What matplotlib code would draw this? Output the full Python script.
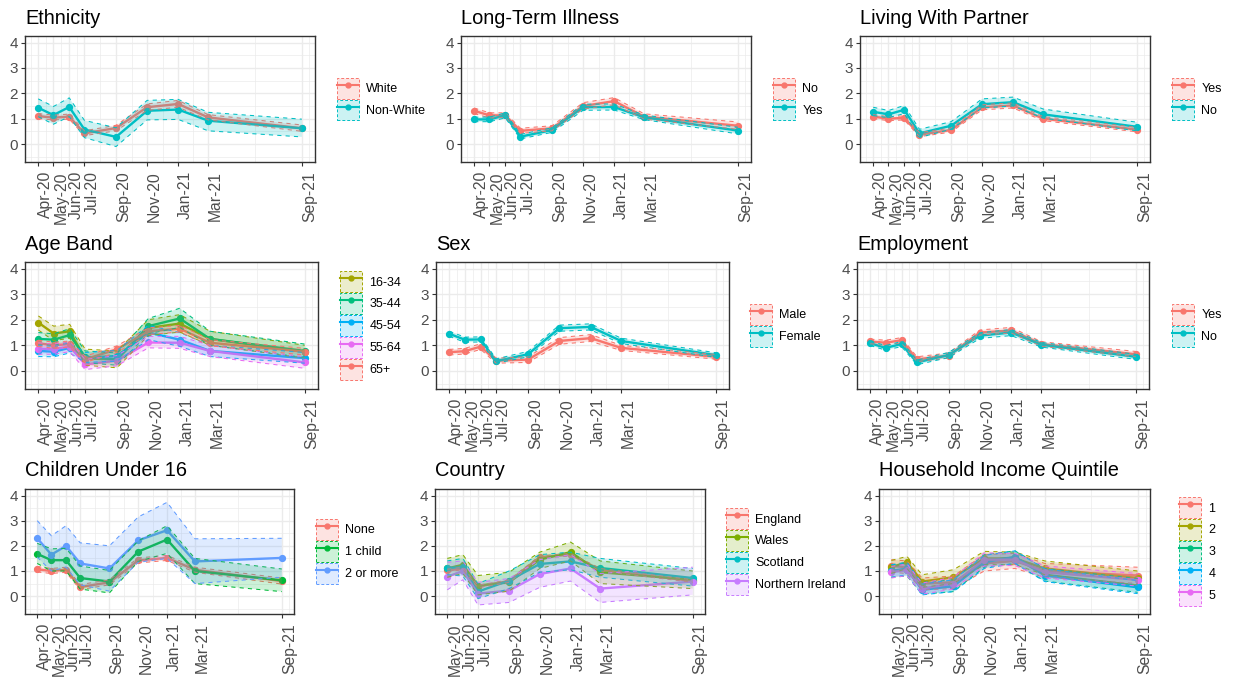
import numpy as np
import pandas as pd
import matplotlib
matplotlib.use("Agg")
import matplotlib.pyplot as plt
from matplotlib.patches import Patch
from matplotlib.lines import Line2D
from matplotlib.legend_handler import HandlerTuple
from matplotlib.colors import to_rgba
import matplotlib.dates as mdates

plt.rcParams['font.family'] = ['Liberation Sans', 'DejaVu Sans']

# ---------------- data ----------------
months_apr = ["Apr-20", "May-20", "Jun-20", "Jul-20", "Sep-20", "Nov-20", "Jan-21", "Mar-21", "Sep-21"]
months_may = ["May-20", "Jun-20", "Jul-20", "Sep-20", "Nov-20", "Jan-21", "Mar-21", "Sep-21"]

# Ethnicity
eth_labels = ["White", "Non-White"]
eth_white = [1.10, 1.04, 1.08, 0.42, 0.63, 1.45, 1.58, 1.05, 0.62]
eth_white_lo = [1.00, 0.95, 0.98, 0.33, 0.52, 1.33, 1.45, 0.95, 0.50]
eth_white_hi = [1.20, 1.14, 1.18, 0.52, 0.74, 1.58, 1.72, 1.16, 0.75]
eth_nonwhite = [1.43, 1.14, 1.46, 0.57, 0.28, 1.31, 1.36, 0.92, 0.62]
eth_nonwhite_lo = [1.08, 0.78, 1.08, 0.25, -0.10, 0.95, 0.97, 0.52, 0.28]
eth_nonwhite_hi = [1.78, 1.48, 1.82, 0.93, 0.64, 1.72, 1.76, 1.25, 0.98]

# Long-Term Illness
lti_labels = ["No", "Yes"]
lti_no = [1.31, 1.13, 1.13, 0.52, 0.62, 1.50, 1.69, 1.08, 0.72]
lti_no_lo = [1.20, 1.03, 1.04, 0.42, 0.52, 1.38, 1.55, 0.98, 0.58]
lti_no_hi = [1.42, 1.23, 1.23, 0.62, 0.72, 1.63, 1.83, 1.19, 0.87]
lti_yes = [0.97, 0.97, 1.13, 0.29, 0.55, 1.45, 1.46, 1.05, 0.53]
lti_yes_lo = [0.88, 0.88, 1.03, 0.20, 0.46, 1.33, 1.34, 0.96, 0.40]
lti_yes_hi = [1.06, 1.06, 1.23, 0.38, 0.64, 1.57, 1.58, 1.14, 0.66]

# Living With Partner
lwp_labels = ["Yes", "No"]
lwp_yes = [1.08, 1.00, 1.03, 0.37, 0.55, 1.45, 1.52, 1.00, 0.57]
lwp_yes_lo = [1.00, 0.92, 0.95, 0.29, 0.47, 1.35, 1.42, 0.92, 0.48]
lwp_yes_hi = [1.16, 1.08, 1.11, 0.45, 0.63, 1.55, 1.62, 1.08, 0.66]
lwp_no = [1.27, 1.17, 1.35, 0.42, 0.72, 1.57, 1.65, 1.17, 0.68]
lwp_no_lo = [1.12, 1.04, 1.20, 0.26, 0.58, 1.42, 1.50, 1.02, 0.52]
lwp_no_hi = [1.45, 1.32, 1.52, 0.58, 0.88, 1.78, 1.85, 1.38, 0.86]

# Age Band
age_labels = ["16-34", "35-44", "45-54", "55-64", "65+"]
age_16_34 = [1.89, 1.46, 1.55, 0.48, 0.45, 1.68, 1.85, 1.25, 0.74]
age_16_34_lo = [1.60, 1.18, 1.28, 0.22, 0.12, 1.38, 1.52, 1.00, 0.50]
age_16_34_hi = [2.15, 1.75, 1.82, 0.85, 0.78, 2.00, 2.20, 1.55, 1.00]
age_35_44 = [1.25, 1.22, 1.40, 0.55, 0.45, 1.75, 2.05, 1.25, 0.78]
age_35_44_lo = [1.02, 1.00, 1.15, 0.32, 0.22, 1.45, 1.70, 1.00, 0.52]
age_35_44_hi = [1.50, 1.45, 1.65, 0.78, 0.70, 2.05, 2.45, 1.55, 1.05]
age_45_54 = [0.78, 0.75, 0.90, 0.52, 0.58, 1.50, 1.22, 0.78, 0.50]
age_45_54_lo = [0.56, 0.55, 0.70, 0.33, 0.38, 1.22, 0.96, 0.56, 0.30]
age_45_54_hi = [1.00, 0.95, 1.10, 0.72, 0.80, 1.78, 1.50, 1.00, 0.72]
age_55_64 = [0.87, 0.85, 0.95, 0.25, 0.40, 1.11, 1.10, 0.78, 0.33]
age_55_64_lo = [0.65, 0.65, 0.75, 0.05, 0.20, 0.90, 0.88, 0.56, 0.10]
age_55_64_hi = [1.10, 1.05, 1.15, 0.45, 0.60, 1.35, 1.35, 1.00, 0.55]
age_65 = [1.08, 1.00, 1.05, 0.45, 0.85, 1.55, 1.65, 1.10, 0.75]
age_65_lo = [0.96, 0.88, 0.93, 0.33, 0.72, 1.42, 1.52, 0.98, 0.62]
age_65_hi = [1.20, 1.12, 1.17, 0.57, 0.98, 1.68, 1.78, 1.22, 0.88]

# Sex
sex_labels = ["Male", "Female"]
sex_male = [0.73, 0.77, 0.95, 0.40, 0.44, 1.17, 1.28, 0.90, 0.55]
sex_male_lo = [0.62, 0.66, 0.84, 0.30, 0.33, 1.04, 1.15, 0.80, 0.46]
sex_male_hi = [0.84, 0.88, 1.06, 0.50, 0.55, 1.30, 1.42, 1.00, 0.64]
sex_female = [1.45, 1.22, 1.23, 0.38, 0.65, 1.67, 1.72, 1.17, 0.62]
sex_female_lo = [1.35, 1.12, 1.13, 0.30, 0.55, 1.55, 1.60, 1.07, 0.53]
sex_female_hi = [1.55, 1.32, 1.33, 0.47, 0.76, 1.79, 1.84, 1.28, 0.71]

# Employment
emp_labels = ["Yes", "No"]
emp_yes = [1.15, 1.10, 1.20, 0.45, 0.60, 1.50, 1.58, 1.05, 0.65]
emp_yes_lo = [1.06, 1.00, 1.10, 0.36, 0.50, 1.40, 1.48, 0.96, 0.55]
emp_yes_hi = [1.24, 1.20, 1.30, 0.55, 0.70, 1.60, 1.70, 1.14, 0.76]
emp_no = [1.08, 0.90, 1.05, 0.33, 0.62, 1.38, 1.50, 1.02, 0.55]
emp_no_lo = [0.99, 0.81, 0.95, 0.24, 0.52, 1.27, 1.38, 0.93, 0.45]
emp_no_hi = [1.17, 0.99, 1.15, 0.42, 0.72, 1.49, 1.62, 1.11, 0.65]

# Children Under 16
chi_labels = ["None", "1 child", "2 or more"]
chi_none = [1.07, 1.00, 1.05, 0.36, 0.55, 1.42, 1.52, 1.05, 0.60]
chi_none_lo = [0.96, 0.90, 0.95, 0.26, 0.45, 1.32, 1.42, 0.95, 0.48]
chi_none_hi = [1.18, 1.10, 1.15, 0.46, 0.65, 1.52, 1.62, 1.15, 0.72]
chi_one = [1.68, 1.43, 1.43, 0.72, 0.58, 1.77, 2.25, 1.00, 0.63]
chi_one_lo = [1.30, 1.00, 1.00, 0.28, 0.13, 1.38, 1.70, 0.50, 0.18]
chi_one_hi = [2.10, 1.88, 1.90, 1.20, 1.02, 2.20, 2.80, 1.50, 1.08]
chi_two = [2.30, 1.65, 2.00, 1.30, 1.10, 2.22, 2.62, 1.38, 1.52]
chi_two_lo = [1.55, 1.00, 1.15, 0.45, 0.20, 1.35, 1.50, 0.50, 0.75]
chi_two_hi = [3.00, 2.40, 2.80, 2.12, 2.00, 3.15, 3.73, 2.28, 2.30]

# Country
cty_labels = ["England", "Wales", "Scotland", "Northern Ireland"]
cty_eng = [1.02, 1.10, 0.38, 0.60, 1.55, 1.65, 1.05, 0.60]
cty_eng_lo = [0.97, 1.05, 0.33, 0.55, 1.50, 1.60, 1.00, 0.55]
cty_eng_hi = [1.07, 1.15, 0.43, 0.65, 1.60, 1.70, 1.10, 0.65]
cty_wal = [1.10, 1.25, 0.42, 0.55, 1.45, 1.75, 0.95, 0.65]
cty_wal_lo = [0.75, 0.90, 0.05, 0.20, 1.10, 1.40, 0.50, 0.30]
cty_wal_hi = [1.50, 1.65, 0.82, 0.95, 1.75, 2.15, 1.40, 1.00]
cty_sco = [1.12, 1.15, 0.18, 0.62, 1.28, 1.38, 1.12, 0.72]
cty_sco_lo = [0.85, 0.80, -0.10, 0.30, 0.95, 1.05, 0.75, 0.40]
cty_sco_hi = [1.40, 1.50, 0.50, 1.00, 1.65, 1.75, 1.50, 1.10]
cty_ni = [0.77, 1.00, 0.10, 0.22, 0.88, 1.10, 0.30, 0.58]
cty_ni_lo = [0.25, 0.65, -0.35, -0.25, 0.35, 0.60, -0.25, 0.05]
cty_ni_hi = [1.35, 1.40, 0.55, 0.70, 1.45, 1.65, 0.90, 1.15]

# Household Income Quintile
inc_labels = ["1", "2", "3", "4", "5"]
inc_q1 = [1.20, 1.15, 0.50, 0.55, 1.30, 1.40, 1.00, 0.82]
inc_q1_lo = [0.95, 0.90, 0.25, 0.30, 1.00, 1.10, 0.75, 0.50]
inc_q1_hi = [1.45, 1.40, 0.72, 0.80, 1.65, 1.70, 1.30, 1.15]
inc_q2 = [1.15, 1.35, 0.58, 0.75, 1.50, 1.50, 1.10, 0.72]
inc_q2_lo = [0.90, 1.10, 0.35, 0.50, 1.25, 1.25, 0.85, 0.45]
inc_q2_hi = [1.42, 1.58, 0.85, 1.05, 1.78, 1.75, 1.40, 1.00]
inc_q3 = [1.00, 1.05, 0.30, 0.40, 1.40, 1.55, 0.85, 0.42]
inc_q3_lo = [0.75, 0.80, 0.08, 0.18, 1.15, 1.30, 0.60, 0.15]
inc_q3_hi = [1.25, 1.30, 0.55, 0.65, 1.65, 1.80, 1.10, 0.70]
inc_q4 = [1.00, 1.10, 0.25, 0.40, 1.35, 1.55, 0.82, 0.35]
inc_q4_lo = [0.75, 0.85, 0.05, 0.18, 1.10, 1.30, 0.58, 0.10]
inc_q4_hi = [1.25, 1.35, 0.48, 0.65, 1.62, 1.80, 1.08, 0.62]
inc_q5 = [0.95, 1.05, 0.30, 0.50, 1.45, 1.45, 0.95, 0.65]
inc_q5_lo = [0.72, 0.82, 0.08, 0.28, 1.20, 1.22, 0.72, 0.40]
inc_q5_hi = [1.18, 1.28, 0.52, 0.75, 1.72, 1.70, 1.20, 0.90]

# ---------------- styling ----------------
C2 = ["#F8766D", "#00BFC4"]
C3 = ["#F8766D", "#00BA38", "#619CFF"]
C4 = ["#F8766D", "#7CAE00", "#00BFC4", "#C77CFF"]
C5 = ["#F8766D", "#A3A500", "#00BF7D", "#00B0F6", "#E76BF3"]
AGE_COLORS = ["#A3A500", "#00BF7D", "#00B0F6", "#E76BF3", "#F8766D"]

W, H = 1233, 677
fig = plt.figure(figsize=(W / 100, H / 100), dpi=100)
fig.patch.set_facecolor("white")

GRID = "#EBEBEB"
BORDER = "#333333"
TICKTXT = "#4D4D4D"


def minor_breaks(b, lo, hi):
    b = list(b)
    bd = b[1] - b[0]
    if lo < b[0]:
        b = [b[0] - bd] + b
    if hi > b[-1]:
        b = b + [b[-1] + bd]
    mids = [(b[i] + b[i + 1]) / 2 for i in range(len(b) - 1)]
    return [m for m in mids if lo <= m <= hi]


def panel(box, legx, title, months, series, labels, colors):
    l, r, t, b = box
    ax = fig.add_axes([l / W, 1 - b / H, (r - l) / W, (b - t) / H])
    x = mdates.date2num(pd.to_datetime(months, format="%b-%y"))
    span = x[-1] - x[0]
    xlo, xhi = x[0] - 0.05 * span, x[-1] + 0.05 * span
    ax.set_xlim(xlo, xhi)
    ax.set_ylim(-0.71, 4.26)

    ax.set_xticks(x)
    ax.set_xticklabels(months, rotation=90, ha="left", va="top", fontsize=11.3, color=TICKTXT)
    ax.set_xticks(minor_breaks(x, xlo, xhi), minor=True)
    ax.set_yticks([0, 1, 2, 3, 4])
    ax.set_yticklabels(["0", "1", "2", "3", "4"], fontsize=11, color=TICKTXT)
    ax.set_yticks([-0.5, 0.5, 1.5, 2.5, 3.5], minor=True)
    ax.tick_params(which="major", length=3, width=0.8, color=BORDER, pad=2)
    ax.tick_params(axis="x", which="major", pad=3.5)
    ax.tick_params(which="minor", length=0)
    ax.grid(which="major", color=GRID, lw=1.0)
    ax.grid(which="minor", color=GRID, lw=0.5)
    ax.set_axisbelow(True)
    for s in ax.spines.values():
        s.set_color(BORDER)
        s.set_linewidth(1.0)

    for (est, lo, hi), c in zip(series, colors):
        ax.plot(x, est, color=c, lw=1.7, marker="o", ms=4.2, zorder=3)
    for (est, lo, hi), c in zip(series, colors):
        ax.fill_between(x, lo, hi, facecolor=c, alpha=0.2, edgecolor="none", zorder=4)
        ax.plot(x, lo, color=c, lw=0.75, ls=(0, (4, 4)), zorder=4)
        ax.plot(x, hi, color=c, lw=0.75, ls=(0, (4, 4)), zorder=4)

    fig.text(l / W, 1 - (t - 18) / H, title, ha="left", va="center", fontsize=14.4, color="black")

    handles = []
    for c in colors:
        p = Patch(facecolor=to_rgba(c, 0.2), edgecolor=c, linestyle=(0, (3, 2)), linewidth=0.7)
        ln = Line2D([], [], color=c, lw=1.5, marker="o", ms=3.5)
        handles.append((p, ln))
    ax.legend(handles, labels, handler_map={tuple: HandlerTuple(ndivide=1)},
              loc="center left", bbox_to_anchor=(legx / W, 1 - ((t + b) / 2) / H),
              bbox_transform=fig.transFigure, frameon=False, fontsize=9,
              handlelength=1.75, handleheight=2.2, labelspacing=0.08,
              handletextpad=0.6, borderpad=0, borderaxespad=0, numpoints=1)
    return ax


panel((25, 315, 36, 162), 337, "Ethnicity", months_apr,
      [(eth_white, eth_white_lo, eth_white_hi), (eth_nonwhite, eth_nonwhite_lo, eth_nonwhite_hi)],
      eth_labels, C2)
panel((461, 751, 36, 162), 773, "Long-Term Illness", months_apr,
      [(lti_no, lti_no_lo, lti_no_hi), (lti_yes, lti_yes_lo, lti_yes_hi)],
      lti_labels, C2)
panel((860, 1150, 36, 162), 1172, "Living With Partner", months_apr,
      [(lwp_yes, lwp_yes_lo, lwp_yes_hi), (lwp_no, lwp_no_lo, lwp_no_hi)],
      lwp_labels, C2)

panel((25, 318, 262, 389), 340, "Age Band", months_apr,
      [(age_16_34, age_16_34_lo, age_16_34_hi), (age_35_44, age_35_44_lo, age_35_44_hi),
       (age_45_54, age_45_54_lo, age_45_54_hi), (age_55_64, age_55_64_lo, age_55_64_hi),
       (age_65, age_65_lo, age_65_hi)],
      age_labels, AGE_COLORS)
panel((436, 729, 262, 389), 750, "Sex", months_apr,
      [(sex_male, sex_male_lo, sex_male_hi), (sex_female, sex_female_lo, sex_female_hi)],
      sex_labels, C2)
panel((857, 1149, 262, 389), 1172, "Employment", months_apr,
      [(emp_yes, emp_yes_lo, emp_yes_hi), (emp_no, emp_no_lo, emp_no_hi)],
      emp_labels, C2)

panel((25, 294, 489, 614), 316, "Children Under 16", months_apr,
      [(chi_none, chi_none_lo, chi_none_hi), (chi_one, chi_one_lo, chi_one_hi),
       (chi_two, chi_two_lo, chi_two_hi)],
      chi_labels, C3)
panel((435, 705, 489, 614), 726, "Country", months_may,
      [(cty_eng, cty_eng_lo, cty_eng_hi), (cty_wal, cty_wal_lo, cty_wal_hi),
       (cty_sco, cty_sco_lo, cty_sco_hi), (cty_ni, cty_ni_lo, cty_ni_hi)],
      cty_labels, C4)
panel((879, 1150, 489, 614), 1179, "Household Income Quintile", months_may,
      [(inc_q1, inc_q1_lo, inc_q1_hi), (inc_q2, inc_q2_lo, inc_q2_hi),
       (inc_q3, inc_q3_lo, inc_q3_hi), (inc_q4, inc_q4_lo, inc_q4_hi),
       (inc_q5, inc_q5_lo, inc_q5_hi)],
      inc_labels, C5)

fig.savefig("out.png", dpi=100, facecolor="white")
